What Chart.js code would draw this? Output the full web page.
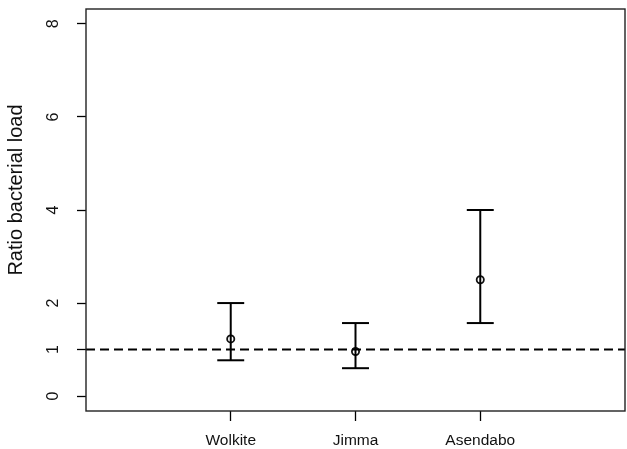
<!DOCTYPE html>
<html><head><meta charset="utf-8">
<script src="https://cdn.jsdelivr.net/npm/chart.js@4/dist/chart.umd.min.js"></script>
<style>html,body{margin:0;padding:0;background:#fff}canvas{display:block}</style>
</head><body>
<canvas id="c" width="627" height="449"></canvas>
<script>
// ---- data ----
const categories = ['Wolkite', 'Jimma', 'Asendabo'];
const ratio      = [1.23, 0.96, 2.50];
const lowerCI    = [0.77, 0.60, 1.57];
const upperCI    = [2.00, 1.57, 4.00];
const yTickValues = [0, 1, 2, 4, 6, 8];
const referenceLevel = 1;
const yAxisTitle = 'Ratio bacterial load';

// ---- layout / style ----
const X_MIN = -0.16, X_MAX = 4.16, Y_MIN = -0.32, Y_MAX = 8.32;
const CAP = 0.108;
const FONT = '"Liberation Sans", Arial, Helvetica, sans-serif';
const INK = '#000';

const datasets = [];
// dashed reference line
datasets.push({
  data: [{x: X_MIN, y: referenceLevel}, {x: X_MAX, y: referenceLevel}],
  showLine: true, borderColor: INK, borderWidth: 2, borderDash: [9, 5],
  pointRadius: 0, borderCapStyle: 'butt'
});
categories.forEach((c, i) => {
  const x = i + 1;
  datasets.push({ data: [{x, y: lowerCI[i]}, {x, y: upperCI[i]}],
    showLine: true, borderColor: INK, borderWidth: 2, pointRadius: 0 });
  datasets.push({ data: [{x: x - CAP, y: upperCI[i]}, {x: x + CAP, y: upperCI[i]}],
    showLine: true, borderColor: INK, borderWidth: 2, pointRadius: 0 });
  datasets.push({ data: [{x: x - CAP, y: lowerCI[i]}, {x: x + CAP, y: lowerCI[i]}],
    showLine: true, borderColor: INK, borderWidth: 2, pointRadius: 0 });
});
datasets.push({
  data: categories.map((c, i) => ({x: i + 1, y: ratio[i]})),
  showLine: false, pointStyle: 'circle', pointRadius: 3.6,
  pointBorderWidth: 1.8, pointBorderColor: '#111', pointBackgroundColor: 'rgba(255,255,255,0)'
});

const decorations = {
  id: 'decorations',
  afterDraw(chart) {
    const {ctx, chartArea: a, scales} = chart;
    ctx.save();
    ctx.strokeStyle = '#222';
    ctx.lineWidth = 1.4;
    ctx.strokeRect(a.left, a.top, a.right - a.left, a.bottom - a.top);
    // y tick labels, rotated like the reference
    ctx.fillStyle = '#111';
    ctx.font = '16px ' + FONT;
    ctx.textAlign = 'center';
    ctx.textBaseline = 'middle';
    yTickValues.forEach(v => {
      const y = scales.y.getPixelForValue(v);
      ctx.save();
      ctx.translate(54, y);
      ctx.rotate(-Math.PI / 2);
      ctx.fillText(String(v), 0, 0);
      ctx.restore();
    });
    // y axis title
    ctx.font = '20px ' + FONT;
    ctx.save();
    ctx.translate(16, 190);
    ctx.rotate(-Math.PI / 2);
    ctx.fillText(yAxisTitle, 0, 0);
    ctx.restore();
    ctx.restore();
  }
};

new Chart(document.getElementById('c'), {
  type: 'scatter',
  data: { datasets },
  options: {
    responsive: false, animation: false,
    layout: { autoPadding: false, padding: { top: 9, right: 2, left: 0, bottom: 0 } },
    plugins: { legend: { display: false }, tooltip: { enabled: false } },
    scales: {
      x: {
        type: 'linear', min: X_MIN, max: X_MAX,
        afterBuildTicks: s => { s.ticks = categories.map((c, i) => ({value: i + 1})); },
        afterFit: s => { s.height = 38; },
        grid: { drawOnChartArea: false, drawTicks: true, tickLength: 10, tickColor: INK, tickWidth: 1.3 },
        border: { display: false },
        ticks: { autoSkip: false, maxRotation: 0, padding: 10, color: '#111',
          font: { family: FONT, size: 15.5 },
          callback: v => categories[Math.round(v) - 1] || '' }
      },
      y: {
        type: 'linear', min: Y_MIN, max: Y_MAX,
        afterBuildTicks: s => { s.ticks = yTickValues.map(v => ({value: v})); },
        afterFit: s => { s.width = 86; },
        grid: { drawOnChartArea: false, drawTicks: true, tickLength: 9, tickColor: INK, tickWidth: 1.3 },
        border: { display: false },
        ticks: { display: false }
      }
    }
  },
  plugins: [decorations]
});
</script>
</body></html>
